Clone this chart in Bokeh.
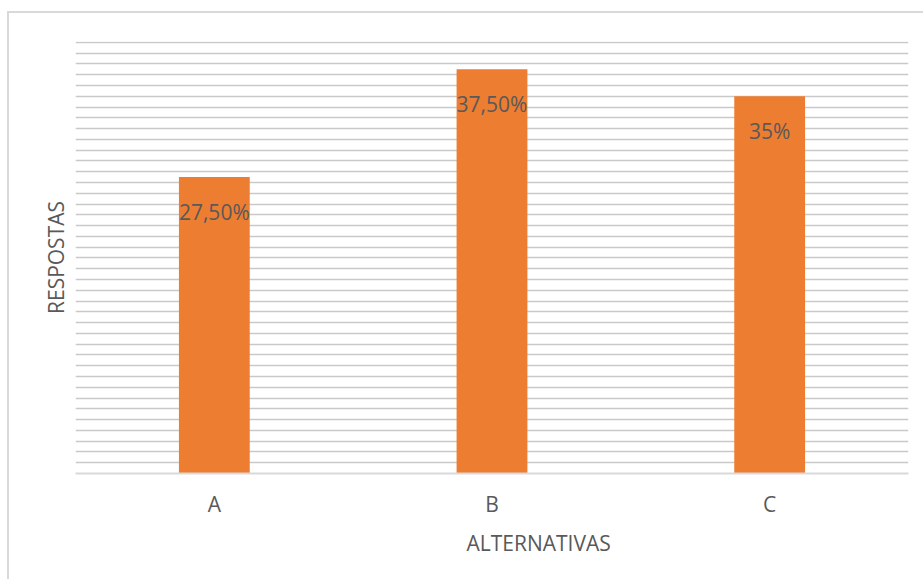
from bokeh.core.properties import value
from bokeh.embed import file_html
from bokeh.models import ColumnDataSource, FactorRange, FixedTicker, Range1d, Title
from bokeh.plotting import figure
from bokeh.resources import INLINE

# Answer share per alternative (percent)
categories = ["A", "B", "C"]
percent = [27.5, 37.5, 35.0]
value_labels = ["27,50%", "37,50%", "35%"]
grid_ticks = list(range(0, 41))

FONT = "Open Sans"
SIZE = "21px"
TEXT = "#595959"
BAR = "#ED7D31"
GRID = "#c9c9c9"

source = ColumnDataSource(dict(cat=categories, pct=percent, lbl=value_labels))

p = figure(
    width=916, height=568,
    x_range=FactorRange(*categories),
    y_range=Range1d(0, 40.08),
    output_backend="svg", toolbar_location=None,
    min_border_left=66, min_border_right=17,
    min_border_top=28, min_border_bottom=108,
    margin=(11, 0, 0, 7),
)
# Chart area border (only the top and left edges fall inside the page)
p.styles = {"border-top": "2px solid #d9d9d9",
            "border-left": "2px solid #d9d9d9"}
p.outline_line_color = None
p.background_fill_color = "white"
p.border_fill_color = "white"

p.vbar(x="cat", top="pct", width=0.255, source=source,
       fill_color=BAR, line_color=None)

# Value labels, placed just inside the top of each bar
p.text(x="cat", y="pct", text="lbl", source=source,
       text_align="center", text_baseline="middle", y_offset=35,
       text_font=value(FONT), text_font_size=SIZE, text_color=TEXT)

# Grid
p.xgrid.visible = False
p.ygrid.ticker = FixedTicker(ticks=grid_ticks)
p.ygrid.grid_line_color = GRID
p.ygrid.grid_line_width = 1.5

# Y axis: only its title is shown
p.yaxis.ticker = FixedTicker(ticks=[])
p.yaxis.axis_line_color = None
p.yaxis.major_tick_line_color = None
p.yaxis.minor_tick_line_color = None
p.yaxis.axis_label = "RESPOSTAS"
p.yaxis.axis_label_standoff = 6
p.yaxis.axis_label_text_font = FONT
p.yaxis.axis_label_text_font_size = SIZE
p.yaxis.axis_label_text_font_style = "normal"
p.yaxis.axis_label_text_color = TEXT

# X axis
p.xaxis.axis_line_color = "#d9d9d9"
p.xaxis.axis_line_width = 2
p.xaxis.major_tick_line_color = None
p.xaxis.minor_tick_line_color = None
p.xaxis.major_label_standoff = 10
p.xaxis.major_label_text_font = FONT
p.xaxis.major_label_text_font_size = SIZE
p.xaxis.major_label_text_color = TEXT

# X axis title
p.add_layout(Title(text="ALTERNATIVAS", align="left", offset=391,
                   text_font=FONT, text_font_size=SIZE,
                   text_font_style="normal", text_color=TEXT,
                   standoff=12), "below")

open("out.html", "w").write(file_html(p, INLINE))
